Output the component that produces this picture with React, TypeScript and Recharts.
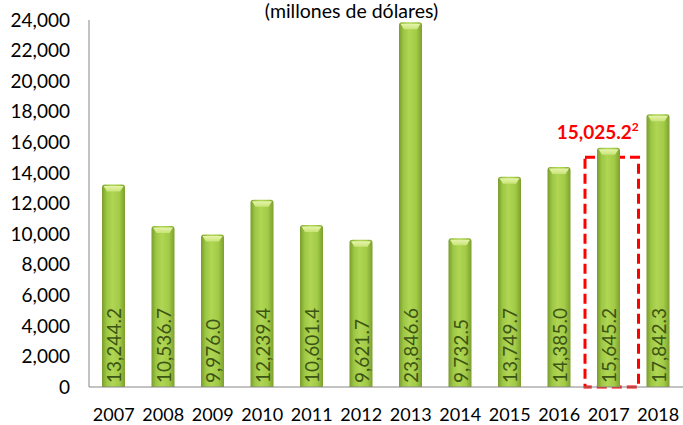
import React from "react";
import {
  BarChart,
  Bar,
  XAxis,
  YAxis,
  LabelList,
  ReferenceArea,
} from "recharts";

const years = ["2007", "2008", "2009", "2010", "2011", "2012", "2013", "2014", "2015", "2016", "2017", "2018"];
const values = [13244.2, 10536.7, 9976.0, 12239.4, 10601.4, 9621.7, 23846.6, 9732.5, 13749.7, 14385.0, 15645.2, 17842.3];
const yTicks = [0, 2000, 4000, 6000, 8000, 10000, 12000, 14000, 16000, 18000, 20000, 22000, 24000];
const highlightYear = "2017";
const highlightValue = 15025.2;
const highlightNote = "2";
const title = "(millones de dólares)";

const data = years.map((year, i) => ({ year, value: values[i] }));

const FONT = "Lato, 'Open Sans', sans-serif";
const fmt = (v: number, digits = 0) =>
  v.toLocaleString("en-US", { minimumFractionDigits: digits, maximumFractionDigits: digits });

const GreenBar = (props: any) => {
  const { x, y, width, height } = props;
  if (!height || height <= 0) return null;
  const r = 3;
  return (
    <g>
      <defs>
        <linearGradient id="barBody" x1="0" y1="0" x2="1" y2="0">
          <stop offset="0%" stopColor="#7a9c2c" />
          <stop offset="20%" stopColor="#9cc744" />
          <stop offset="45%" stopColor="#b0d654" />
          <stop offset="75%" stopColor="#a2cb47" />
          <stop offset="100%" stopColor="#7d9f2e" />
        </linearGradient>
        <linearGradient id="barCap" x1="0" y1="0" x2="0" y2="1">
          <stop offset="0%" stopColor="#e6f4ac" />
          <stop offset="100%" stopColor="#c8e476" />
        </linearGradient>
      </defs>
      <path
        d={`M${x},${y + height} L${x},${y + r} Q${x},${y} ${x + r},${y} L${x + width - r},${y} Q${x + width},${y} ${x + width},${y + r} L${x + width},${y + height} Z`}
        fill="url(#barBody)"
      />
      <path
        d={`M${x + 1.5},${y + 1.5} L${x + width - 1.5},${y + 1.5} L${x + width - 5},${y + 7} L${x + 5},${y + 7} Z`}
        fill="url(#barCap)"
      />
    </g>
  );
};

const BarValue = (props: any) => {
  const { x, y, width, height, value } = props;
  const cx = x + width / 2;
  const by = y + height - 4;
  return (
    <text
      x={cx}
      y={by}
      transform={`rotate(-90, ${cx}, ${by})`}
      textAnchor="start"
      dominantBaseline="central"
      fill="#3d5515"
      fontSize={19}
      fontFamily={FONT}
    >
      {fmt(value, 1)}
    </text>
  );
};

const HighlightBox = (props: any) => {
  const { x, y, width, height } = props;
  return (
    <rect
      x={x + 1}
      y={y}
      width={width + 4}
      height={height}
      fill="none"
      stroke="#ff0000"
      strokeWidth={3}
      strokeDasharray="10 5"
    />
  );
};

const HighlightLabel = (props: any) => {
  const vb = props.viewBox || {};
  const cx = vb.x + vb.width / 2 - 11;
  const ty = vb.y - 18;
  return (
    <text x={cx} y={ty} textAnchor="middle" fill="#ff0000" fontWeight="bold" fontSize={19} fontFamily={FONT}>
      {fmt(highlightValue, 1)}
      <tspan dy={-8} fontSize={12}>
        {highlightNote}
      </tspan>
    </text>
  );
};

export default function App() {
  return (
    <div style={{ position: "absolute", left: 0, top: 0, width: 683, height: 425, background: "#fff" }}>
      <div
        style={{
          position: "absolute",
          left: 0,
          top: 1,
          width: 703,
          textAlign: "center",
          fontFamily: FONT,
          fontSize: 19.5,
          color: "#000",
          lineHeight: "20px",
        }}
      >
        {title}
      </div>
      <BarChart width={683} height={425} data={data} margin={{ top: 20, right: 0, bottom: 0, left: 0 }}>
        <XAxis
          dataKey="year"
          height={38}
          tickLine={false}
          tickSize={0}
          tickMargin={21}
          axisLine={{ stroke: "#868686" }}
          tick={{ fill: "#000", fontSize: 18, fontFamily: FONT }}
          interval={0}
        />
        <YAxis
          width={89}
          domain={[0, 24000]}
          ticks={yTicks}
          interval={0}
          tickLine={false}
          tickSize={0}
          tickMargin={19}
          axisLine={{ stroke: "#868686" }}
          tickFormatter={(v: number) => fmt(v)}
          tick={{ fill: "#000", fontSize: 19, fontFamily: FONT }}
        />
        <Bar dataKey="value" barSize={23} shape={<GreenBar />} isAnimationActive={false}>
          <LabelList dataKey="value" content={<BarValue />} />
        </Bar>
        <ReferenceArea
          x1={highlightYear}
          x2={highlightYear}
          y1={0}
          y2={highlightValue}
          ifOverflow="visible"
          shape={<HighlightBox />}
          label={<HighlightLabel />}
        />
      </BarChart>
    </div>
  );
}
